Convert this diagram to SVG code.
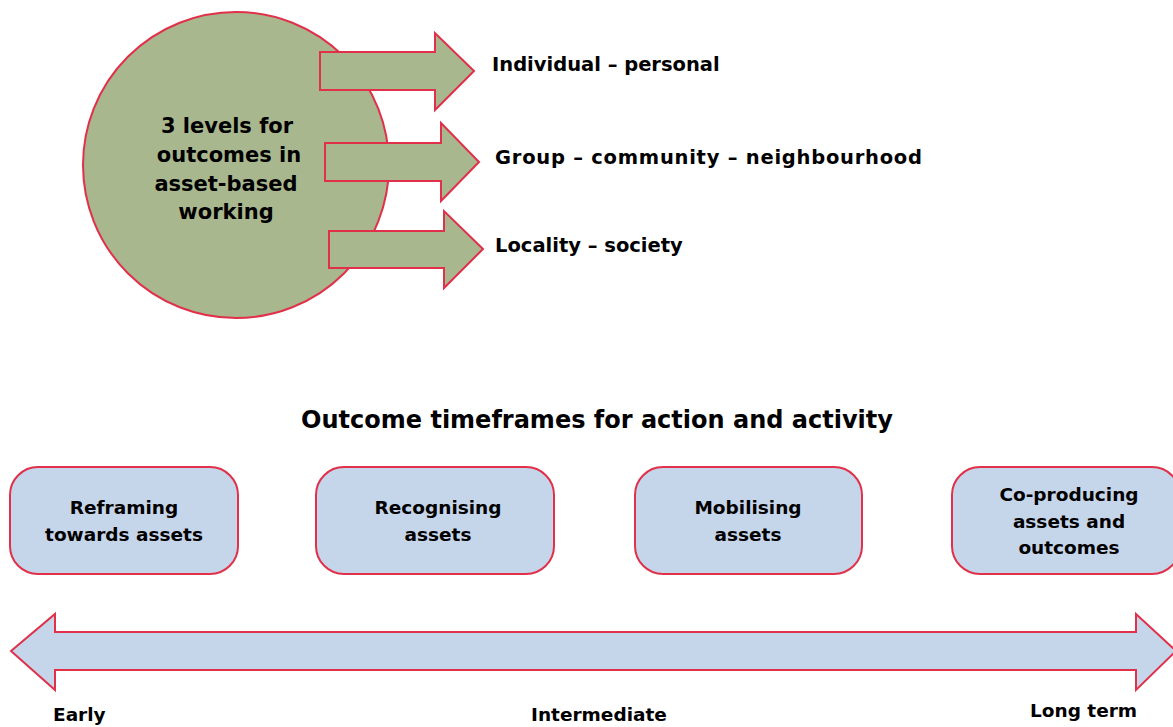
<svg xmlns="http://www.w3.org/2000/svg" width="1173" height="727" viewBox="0 0 1173 727">
<style>
.g{fill:#A9B78F;stroke:#E0304A;stroke-width:2}
.b{fill:#C6D6EA;stroke:#E0304A;stroke-width:2}
text{font-family:"DejaVu Sans","Liberation Sans",sans-serif;font-weight:bold;fill:#000}
.c{font-size:21px;text-anchor:middle}
.l{font-size:19.5px}
.s{font-size:18.5px}
.t{font-size:24px;text-anchor:middle}
.bx{font-size:18.5px;text-anchor:middle}
</style>
<rect width="1173" height="727" fill="#fff"/>
<g id="circle">
<circle class="g" cx="236" cy="165" r="153"/>
<text class="c" x="227" y="133">3 levels for</text>
<text class="c" x="229" y="162">outcomes in</text>
<text class="c" x="226" y="191">asset-based</text>
<text class="c" x="226" y="219">working</text>
</g>
<g id="connectors">
<polygon class="g" points="320,52 435,52 435,33 474,71 435,110 435,90 320,90"/>
<polygon class="g" points="325,143 441,143 441,123 479,162 441,201 441,181 325,181"/>
<polygon class="g" points="329,231 444,231 444,211 483,249 444,288 444,268 329,268"/>
<polygon class="b" points="11,651 55,614 55,632 1136,632 1136,614 1176,651 1136,690 1136,670 55,670 55,690"/>
</g>
<g id="individual"><text class="l" x="492" y="71">Individual – personal</text></g>
<g id="group"><text class="l" x="495" y="164" textLength="427" lengthAdjust="spacing">Group – community – neighbourhood</text></g>
<g id="locality"><text class="l" x="495" y="252">Locality – society</text></g>
<g id="title"><text class="t" x="597" y="428">Outcome timeframes for action and activity</text></g>
<g id="reframing">
<rect class="b" x="10" y="467" width="228" height="107" rx="28" ry="28"/>
<text class="bx" x="124" y="514">Reframing</text>
<text class="bx" x="124" y="541">towards assets</text>
</g>
<g id="recognising">
<rect class="b" x="316" y="467" width="238" height="107" rx="28" ry="28"/>
<text class="bx" x="438" y="514">Recognising</text>
<text class="bx" x="438" y="541">assets</text>
</g>
<g id="mobilising">
<rect class="b" x="635" y="467" width="227" height="107" rx="28" ry="28"/>
<text class="bx" x="748" y="514">Mobilising</text>
<text class="bx" x="748" y="541">assets</text>
</g>
<g id="coproducing">
<rect class="b" x="952" y="467" width="228" height="107" rx="28" ry="28"/>
<text class="bx" x="1069" y="501">Co-producing</text>
<text class="bx" x="1069" y="528">assets and</text>
<text class="bx" x="1069" y="554">outcomes</text>
</g>
<g id="early"><text class="s" x="53" y="721">Early</text></g>
<g id="intermediate"><text class="s" x="531" y="721">Intermediate</text></g>
<g id="longterm"><text class="s" x="1030" y="717">Long term</text></g>
</svg>
